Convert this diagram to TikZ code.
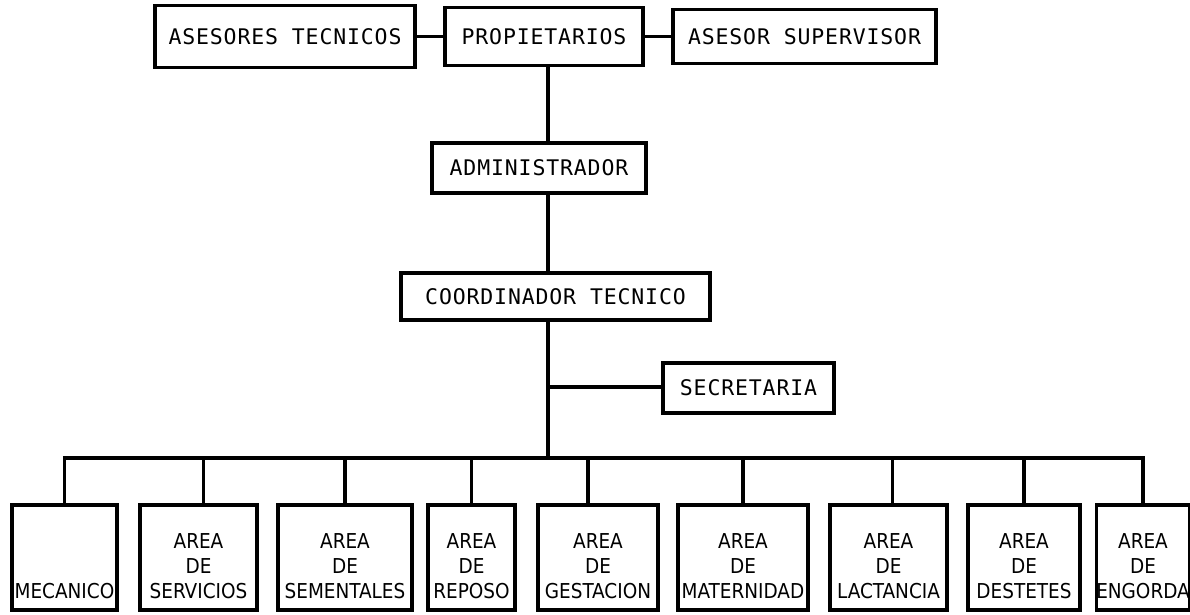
\documentclass[tikz,border=0pt]{standalone}
\usepackage{fontspec}
\newfontfamily\typefont{DejaVu Sans Mono}[LetterSpace=4]
\newfontfamily\narrowfont{DejaVu Sans Condensed}
\usetikzlibrary{positioning, calc}

\begin{document}
\begin{tikzpicture}[
  x=1pt, y=-1pt,
  topbox/.style = {draw, line width=3.2pt, inner sep=0pt, font=\typefont\fontsize{21.5}{24}\selectfont},
  areabox/.style = {draw, line width=3.2pt, inner sep=0pt, align=center,
    text height=93pt, text depth=12pt, font=\narrowfont\fontsize{20.5}{25}\selectfont},
  link/.style = {line width=3.2pt}
]
  \useasboundingbox (0,0) rectangle (1190,615);

  % Top row
  \node[topbox, minimum width=260pt, minimum height=62pt] (asesores) at (285,36.5) {ASESORES TECNICOS};
  \node[topbox, minimum width=198pt, minimum height=58pt] (propietarios) at (544,36.5) {PROPIETARIOS};
  \node[topbox, minimum width=263pt, minimum height=54pt] (supervisor) at (804.5,36.5) {ASESOR SUPERVISOR};

  % Management
  \node[topbox, minimum width=214pt, minimum height=50pt] (admin) at (539,168) {ADMINISTRADOR};
  \node[topbox, minimum width=309pt, minimum height=47pt] (coordinador) at (555.5,296.5) {COORDINADOR TECNICO};
  \node[topbox, minimum width=171pt, minimum height=50pt] (secretaria) at (748.5,388) {SECRETARIA};

  % Areas
  \node[areabox, minimum width=105pt] (mecanico) at (64.5,557.5) {MECANICO};
  \node[areabox, minimum width=117pt] (servicios) at (198.5,557.5) {AREA\\DE\\SERVICIOS};
  \node[areabox, minimum width=134pt] (sementales) at (345,557.5) {AREA\\DE\\SEMENTALES};
  \node[areabox, minimum width=87pt] (reposo) at (471.5,557.5) {AREA\\DE\\REPOSO};
  \node[areabox, minimum width=120pt] (gestacion) at (598,557.5) {AREA\\DE\\GESTACION};
  \node[areabox, minimum width=130pt] (maternidad) at (743,557.5) {AREA\\DE\\MATERNIDAD};
  \node[areabox, minimum width=117pt] (lactancia) at (888.5,557.5) {AREA\\DE\\LACTANCIA};
  \node[areabox, minimum width=112pt] (destetes) at (1024,557.5) {AREA\\DE\\DESTETES};
  \node[areabox, minimum width=88pt] (engorda) at (1143,557.5) {AREA\\DE\\ENGORDA};

  % trunk and bus
  \coordinate (trunk) at (548,0);
  \coordinate (bus) at (0,458);
  \coordinate (secsplit) at (548,387);

  % advisers
  \draw[link] (asesores.east) -- (propietarios.west);
  \draw[link] (propietarios.east) -- (supervisor.west);

  % chain of command
  \draw[link] (propietarios.south -| trunk) -- (admin.north -| trunk);
  \draw[link] (admin.south -| trunk) -- (coordinador.north -| trunk);
  \draw[link] (coordinador.south -| trunk) -- (bus -| trunk);
  \draw[link] (secsplit) -- (secsplit -| secretaria.west);

  % bus to areas
  \draw[link] ([xshift=-1.6pt]bus -| mecanico.north) -- ([xshift=1.6pt]bus -| engorda.north);
  \draw[link] (bus -| mecanico.north) -- (mecanico.north);
  \draw[link] ([xshift=5pt]servicios.north |- bus) -- ([xshift=5pt]servicios.north);
  \draw[link] (bus -| sementales.north) -- (sementales.north);
  \draw[link] (bus -| reposo.north) -- (reposo.north);
  \draw[link] ([xshift=-10pt]gestacion.north |- bus) -- ([xshift=-10pt]gestacion.north);
  \draw[link] (bus -| maternidad.north) -- (maternidad.north);
  \draw[link] ([xshift=4pt]lactancia.north |- bus) -- ([xshift=4pt]lactancia.north);
  \draw[link] (bus -| destetes.north) -- (destetes.north);
  \draw[link] (bus -| engorda.north) -- (engorda.north);

\end{tikzpicture}
\end{document}
